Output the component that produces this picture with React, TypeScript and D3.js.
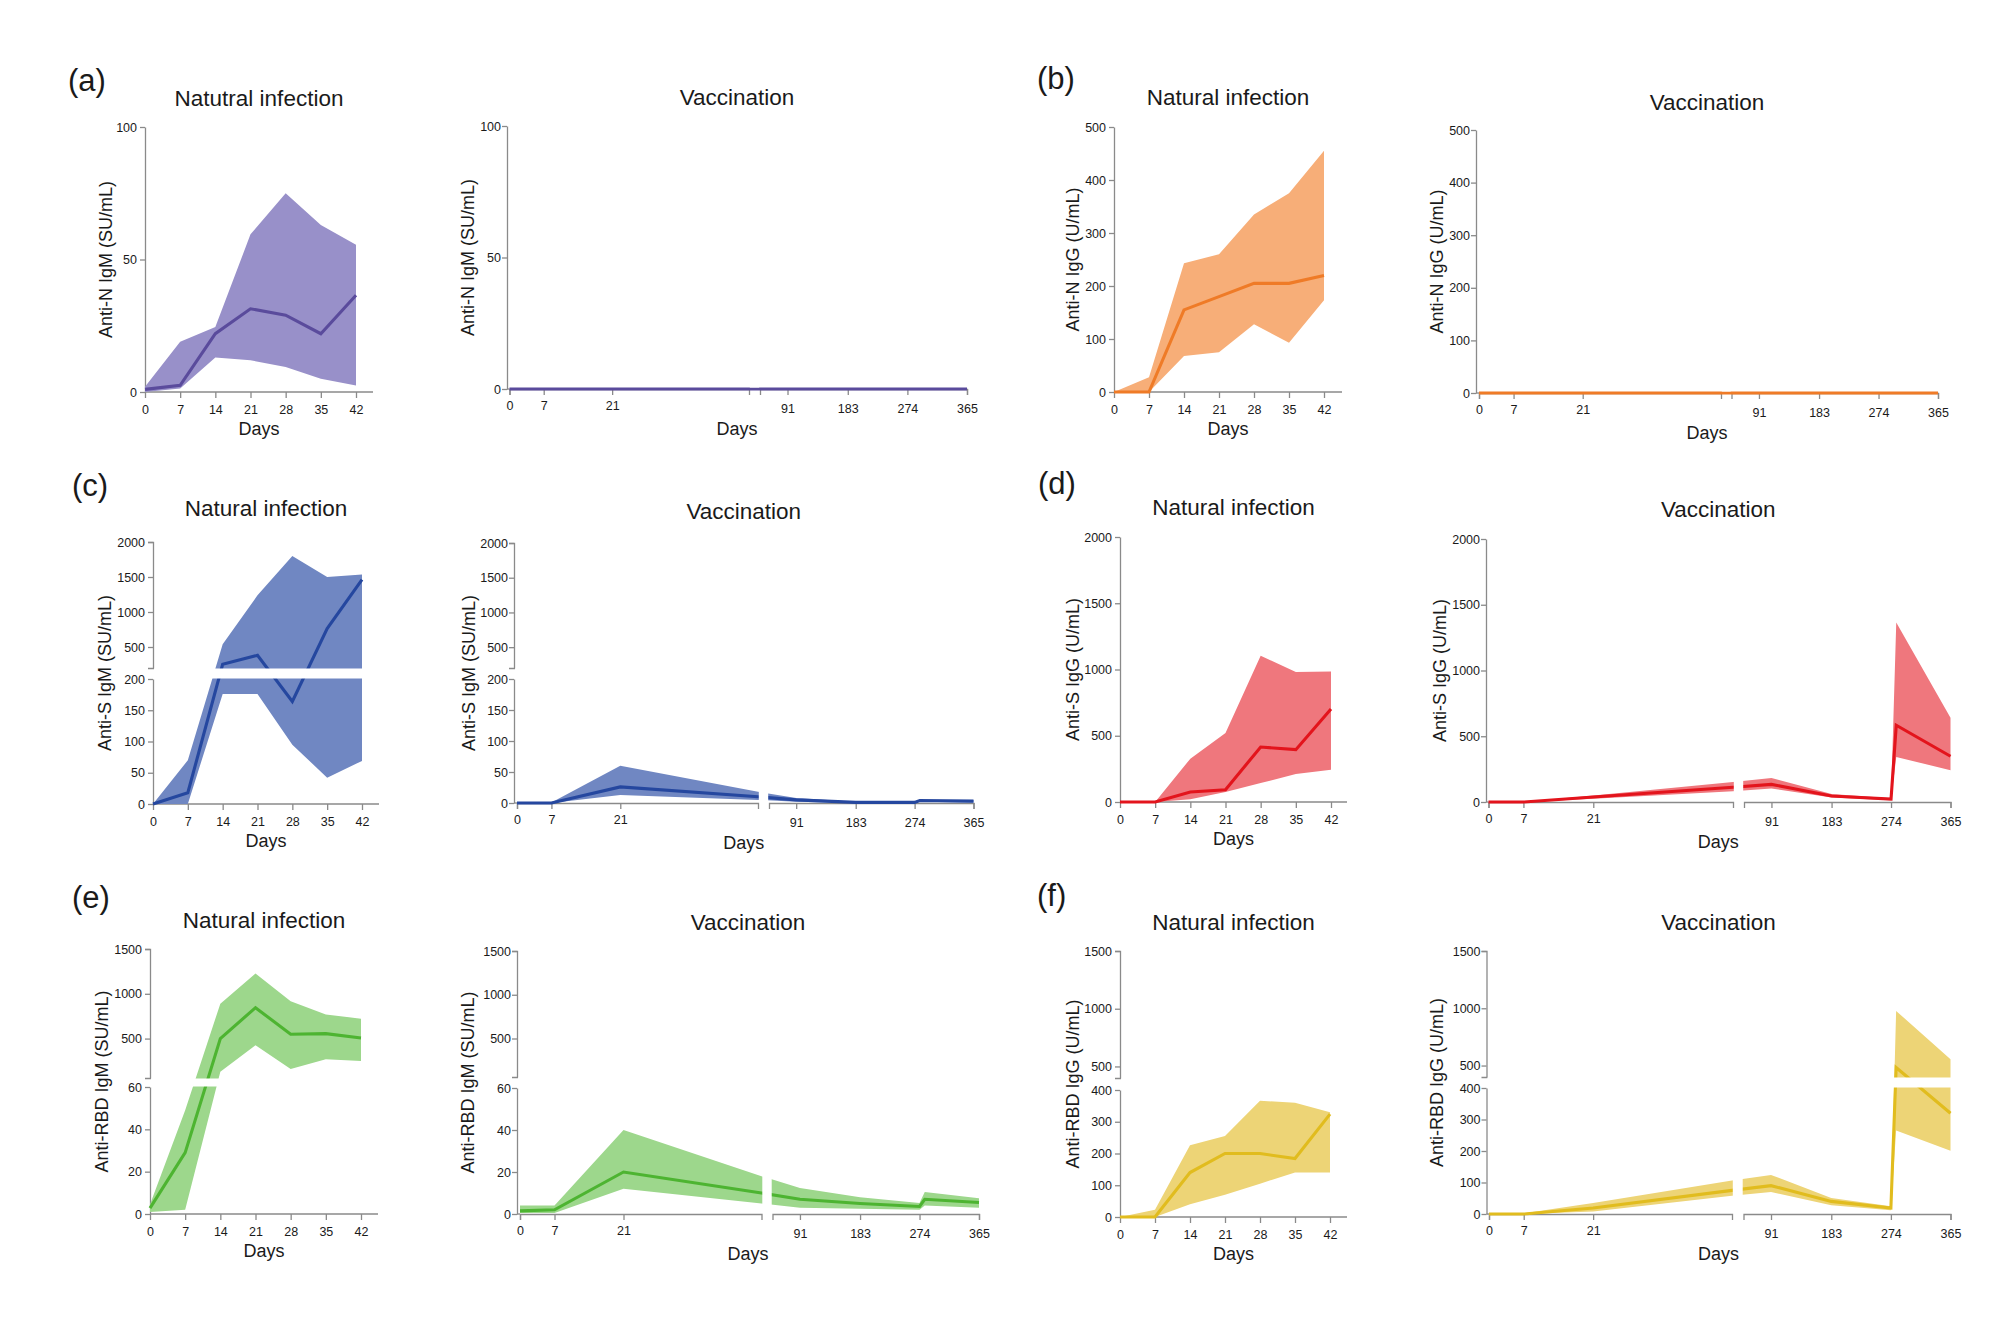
import React, { useEffect, useRef } from 'react';
import * as d3 from 'd3';

// ---------- shared x values ----------
const naturalDays = [0, 7, 14, 21, 28, 35, 42];
const vaccineDays = [0, 7, 21, 49, 91, 183, 274, 282, 365];
const naturalTickDays = [0, 7, 14, 21, 28, 35, 42];
const vaccineTickDaysEarly = [0, 7, 21];
const vaccineTickDaysLate = [91, 183, 274, 365];
const vaccineBreakDay = 49;
const vaccineLastDay = 365;
const naturalLastDay = 42;

// ---------- (a) Anti-N IgM ----------
const aNaturalMean = [1, 2.5, 22, 31.4, 29, 22, 36.5];
const aNaturalUpper = [2, 19, 24.5, 59.5, 75, 63, 55.6];
const aNaturalLower = [0, 1.3, 13, 12, 9.4, 5, 2.5];
const aVaccineMean = [0, 0, 0, 0, 0, 0, 0, 0, 0];
const aVaccineUpper = [0, 0, 0, 0, 0, 0, 0, 0, 0];
const aVaccineLower = [0, 0, 0, 0, 0, 0, 0, 0, 0];
const aTicks = [0, 50, 100];

// ---------- (b) Anti-N IgG ----------
const bNaturalMean = [0, 0, 155, 180, 205, 205, 220];
const bNaturalUpper = [0, 28, 243, 260, 335, 375, 455];
const bNaturalLower = [0, 0, 68, 75, 128, 93, 173];
const bVaccineMean = [0, 0, 0, 0, 0, 0, 0, 0, 0];
const bVaccineUpper = [0, 0, 0, 0, 0, 0, 0, 0, 0];
const bVaccineLower = [0, 0, 0, 0, 0, 0, 0, 0, 0];
const bTicks = [0, 100, 200, 300, 400, 500];

// ---------- (c) Anti-S IgM (broken y axis) ----------
const cNaturalMean = [0, 18, 252, 381, 164, 762, 1462];
const cNaturalUpper = [0, 70, 540, 1238, 1800, 1500, 1535];
const cNaturalLower = [0, 0, 176, 176, 95, 42, 69];
const cVaccineMean = [0, 0, 26, 10, 5, 1, 1, 4, 3];
const cVaccineUpper = [1, 1, 60, 18, 8, 2, 2, 5, 5];
const cVaccineLower = [0, 0, 13, 5, 2, 0, 0, 2, 1];
const cTicksLow = [0, 50, 100, 150, 200];
const cTicksHigh = [500, 1000, 1500, 2000];

// ---------- (d) Anti-S IgG ----------
const dNaturalMean = [0, 0, 75, 93, 415, 395, 702];
const dNaturalUpper = [0, 0, 327, 520, 1104, 981, 985];
const dNaturalLower = [0, 0, 20, 75, 143, 211, 244];
const dVaccineMean = [0, 0, 38, 112, 134, 46, 22, 584, 348];
const dVaccineUpper = [0, 0, 50, 152, 183, 60, 28, 1365, 640];
const dVaccineLower = [0, 0, 25, 82, 102, 35, 14, 343, 241];
const dTicks = [0, 500, 1000, 1500, 2000];

// ---------- (e) Anti-RBD IgM (broken y axis) ----------
const eNaturalMean = [2.8, 29, 500, 845, 548, 555, 507];
const eNaturalUpper = [4.5, 49, 890, 1226, 918, 770, 722];
const eNaturalLower = [1, 2, 130, 425, 160, 270, 250];
const eVaccineMean = [1.5, 2, 20, 10, 7, 5, 3.6, 7, 5.5];
const eVaccineUpper = [4, 4, 40, 18, 12.4, 8, 5.2, 10.5, 7.5];
const eVaccineLower = [0.5, 0.5, 12, 5, 3, 2.5, 2, 4, 3];
const eTicksLow = [0, 20, 40, 60];
const eTicksHigh = [500, 1000, 1500];

// ---------- (f) Anti-RBD IgG (broken y axis) ----------
const fNaturalMean = [0, 0, 140, 200, 200, 184, 324];
const fNaturalUpper = [0, 23, 226, 255, 366, 360, 330];
const fNaturalLower = [0, 0, 40, 70, 105, 140, 140];
const fVaccineMean = [0, 0, 19, 75, 90, 40, 19, 483, 320];
const fVaccineUpper = [0, 2, 35, 106, 124, 51, 25, 977, 555];
const fVaccineLower = [0, 0, 8, 58, 70, 28, 12, 265, 201];
const fTicksLow = [0, 100, 200, 300, 400];
const fTicksHigh = [500, 1000, 1500];

// ---------- labels ----------
const panelLetters = ['(a)', '(b)', '(c)', '(d)', '(e)', '(f)'];
const yLabels = [
  'Anti-N IgM (SU/mL)',
  'Anti-N IgG (U/mL)',
  'Anti-S IgM (SU/mL)',
  'Anti-S IgG (U/mL)',
  'Anti-RBD IgM (SU/mL)',
  'Anti-RBD IgG (U/mL)',
];
const naturalTitles = [
  'Natutral infection',
  'Natural infection',
  'Natural infection',
  'Natural infection',
  'Natural infection',
  'Natural infection',
];
const vaccineTitle = 'Vaccination';
const xLabel = 'Days';

// ---------- styles ----------
const lineColors = ['#5a4b9c', '#ef7b27', '#25479f', '#e3141c', '#4db431', '#e1bc1e'];
const bandColors = ['#9890c9', '#f7ae78', '#7087c2', '#ef777d', '#9dd78c', '#edd476'];
const FONT = "'Liberation Sans', Arial, Helvetica, sans-serif";
const AXIS_COLOR = '#8a8a8a';
const TEXT_COLOR = '#1a1a1a';
const tickFormat = d3.format('d');

// ---------- layout (pixel geometry of each plot) ----------
const letterPos = [
  [68, 80], [1037, 78], [72, 485], [1038, 483], [72, 897], [1037, 895],
];

const naturalLayout = [
  { X: 145, x42: 356, end: 373, yTop: 127, yBottom: 392, titleY: 98, yOff: 39 },
  { X: 1114, x42: 1324, end: 1342, yTop: 127, yBottom: 392, titleY: 97, yOff: 41 },
  { X: 153, x42: 362, end: 379, yTop: 542, yBottom: 804, yLowTop: 679, yUpBottom: 668, titleY: 508, yOff: 48 },
  { X: 1120, x42: 1331, end: 1347, yTop: 537, yBottom: 802, titleY: 507, yOff: 47 },
  { X: 150, x42: 361, end: 378, yTop: 949, yBottom: 1214, yLowTop: 1087, yUpBottom: 1078, titleY: 920, yOff: 48 },
  { X: 1120, x42: 1330, end: 1347, yTop: 951, yBottom: 1217, yLowTop: 1090, yUpBottom: 1078, titleY: 922, yOff: 47 },
];
const vaccineLayout = [
  { X: 507, x0: 509.5, xBE: 749, xBS: 760, x365: 967, yTop: 126, yBottom: 389, titleY: 97, yOff: 39 },
  { X: 1476, x0: 1479, xBE: 1721, xBS: 1731.5, x365: 1938, yTop: 130, yBottom: 393, titleY: 102, yOff: 39 },
  { X: 514, x0: 517, xBE: 758, xBS: 769, x365: 973.5, yTop: 543, yBottom: 803, yLowTop: 679, yUpBottom: 668, titleY: 511, yOff: 45 },
  { X: 1486, x0: 1488.5, xBE: 1733, xBS: 1744, x365: 1950.5, yTop: 539, yBottom: 802, titleY: 509, yOff: 46 },
  { X: 517, x0: 520, xBE: 761.5, xBS: 772.5, x365: 979, yTop: 951, yBottom: 1214, yLowTop: 1088, yUpBottom: 1077, titleY: 922, yOff: 49 },
  { X: 1486.5, x0: 1489, xBE: 1732, xBS: 1743.5, x365: 1950.5, yTop: 951, yBottom: 1214, yLowTop: 1088, yUpBottom: 1077, titleY: 922, yOff: 50 },
];

// y-axis definitions built from the tick arrays
const yAxes = [
  { max: 100, ticks: aTicks },
  { max: 500, ticks: bTicks },
  { max: 2000, lowMax: 200, ticksLow: cTicksLow, ticksHigh: cTicksHigh },
  { max: 2000, ticks: dTicks },
  { max: 1500, lowMax: 60, ticksLow: eTicksLow, ticksHigh: eTicksHigh },
  { max: 1500, lowMax: 400, ticksLow: fTicksLow, ticksHigh: fTicksHigh },
];

const naturalSeries = [
  [aNaturalMean, aNaturalUpper, aNaturalLower],
  [bNaturalMean, bNaturalUpper, bNaturalLower],
  [cNaturalMean, cNaturalUpper, cNaturalLower],
  [dNaturalMean, dNaturalUpper, dNaturalLower],
  [eNaturalMean, eNaturalUpper, eNaturalLower],
  [fNaturalMean, fNaturalUpper, fNaturalLower],
];
const vaccineSeries = [
  [aVaccineMean, aVaccineUpper, aVaccineLower],
  [bVaccineMean, bVaccineUpper, bVaccineLower],
  [cVaccineMean, cVaccineUpper, cVaccineLower],
  [dVaccineMean, dVaccineUpper, dVaccineLower],
  [eVaccineMean, eVaccineUpper, eVaccineLower],
  [fVaccineMean, fVaccineUpper, fVaccineLower],
];

function styleAxis(sel: any) {
  sel.attr('font-family', FONT).attr('font-size', 12.5);
  sel.selectAll('.domain').attr('stroke', AXIS_COLOR).attr('stroke-width', 1.3);
  sel.selectAll('.tick line').attr('stroke', AXIS_COLOR).attr('stroke-width', 1.3);
  sel.selectAll('.tick text').attr('fill', TEXT_COLOR);
}

function drawChart(root: any, idx: number, isVac: boolean) {
  const L: any = isVac ? vaccineLayout[idx] : naturalLayout[idx];
  const ya: any = yAxes[idx];
  const [mean, upper, lower] = isVac ? vaccineSeries[idx] : naturalSeries[idx];
  const days = isVac ? vaccineDays : naturalDays;
  const lineColor = lineColors[idx];
  const bandColor = bandColors[idx];
  const g = root.append('g');
  const axisEnd = isVac ? L.x365 : L.end;

  // ----- x scales -----
  let fx: (d: number) => number;
  if (isVac) {
    const x1 = d3.scaleLinear().domain([0, vaccineBreakDay]).range([L.x0, L.xBE]);
    const x2 = d3.scaleLinear().domain([vaccineBreakDay, vaccineLastDay]).range([L.xBS, L.x365]);
    fx = (d: number) => (d <= vaccineBreakDay ? x1(d) : x2(d));
    const ax1 = g.append('g').attr('transform', `translate(0,${L.yBottom})`)
      .call(d3.axisBottom(x1).tickValues(vaccineTickDaysEarly).tickFormat(tickFormat)
        .tickSize(6).tickSizeOuter(6).tickPadding(6));
    styleAxis(ax1);
    const ax2 = g.append('g').attr('transform', `translate(0,${L.yBottom})`)
      .call(d3.axisBottom(x2).tickValues(vaccineTickDaysLate).tickFormat(tickFormat)
        .tickSize(6).tickSizeOuter(6).tickPadding(9));
    styleAxis(ax2);
    g.append('line').attr('x1', L.X).attr('x2', L.x0).attr('y1', L.yBottom).attr('y2', L.yBottom)
      .attr('stroke', AXIS_COLOR).attr('stroke-width', 1.3);
  } else {
    const x = d3.scaleLinear().domain([0, naturalLastDay]).range([L.X, L.x42]);
    fx = (d: number) => x(d);
    const ax = g.append('g').attr('transform', `translate(0,${L.yBottom})`)
      .call(d3.axisBottom(x).tickValues(naturalTickDays).tickFormat(tickFormat)
        .tickSize(6).tickSizeOuter(0).tickPadding(7));
    ax.select('.domain').remove();
    styleAxis(ax);
    g.append('line').attr('x1', L.X).attr('x2', L.end).attr('y1', L.yBottom).attr('y2', L.yBottom)
      .attr('stroke', AXIS_COLOR).attr('stroke-width', 1.3);
  }

  // ----- y scales -----
  let fy: (v: number) => number;
  const ypad = isVac ? 1 : 3;
  if (ya.lowMax) {
    const yl = d3.scaleLinear().domain([0, ya.lowMax]).range([L.yBottom, L.yLowTop]);
    const yu = d3.scaleLinear().domain([ya.lowMax, ya.max]).range([L.yUpBottom, L.yTop]);
    fy = (v: number) => (v <= ya.lowMax ? yl(v) : yu(v));
    const a1 = g.append('g').attr('transform', `translate(${L.X},0)`)
      .call(d3.axisLeft(yl).tickValues(ya.ticksLow).tickFormat(tickFormat)
        .tickSize(5).tickSizeOuter(0).tickPadding(ypad));
    styleAxis(a1);
    const a2 = g.append('g').attr('transform', `translate(${L.X},0)`)
      .call(d3.axisLeft(yu).tickValues(ya.ticksHigh).tickFormat(tickFormat)
        .tickSize(5).tickSizeOuter(5).tickPadding(ypad));
    styleAxis(a2);
  } else {
    const y = d3.scaleLinear().domain([0, ya.max]).range([L.yBottom, L.yTop]);
    fy = (v: number) => y(v);
    const a = g.append('g').attr('transform', `translate(${L.X},0)`)
      .call(d3.axisLeft(y).tickValues(ya.ticks).tickFormat(tickFormat)
        .tickSize(5).tickSizeOuter(0).tickPadding(ypad));
    styleAxis(a);
  }

  // ----- band and mean line -----
  const idxs = days.map((_, i) => i);
  const area = d3.area<number>()
    .x((i) => fx(days[i]))
    .y0((i) => fy(lower[i]))
    .y1((i) => fy(upper[i]));
  const line = d3.line<number>()
    .x((i) => fx(days[i]))
    .y((i) => fy(mean[i]));
  g.append('path').attr('d', area(idxs)).attr('fill', bandColor).attr('stroke', 'none');
  g.append('path').attr('d', line(idxs)).attr('fill', 'none').attr('stroke', lineColor)
    .attr('stroke-width', 3.1).attr('stroke-linejoin', 'miter');

  // ----- white gaps of the broken axes -----
  if (ya.lowMax) {
    g.append('rect').attr('x', L.X + 1).attr('y', L.yUpBottom + 0.5)
      .attr('width', axisEnd - L.X + 10).attr('height', L.yLowTop - L.yUpBottom - 1)
      .attr('fill', '#fff');
  }
  if (isVac) {
    g.append('rect').attr('x', L.xBE + 0.8).attr('y', L.yTop - 5)
      .attr('width', L.xBS - L.xBE - 1.6).attr('height', L.yBottom - L.yTop + 3.5)
      .attr('fill', '#fff');
  }

  // ----- titles -----
  const cx = (L.X + axisEnd) / 2;
  g.append('text').attr('x', cx).attr('y', L.titleY).attr('text-anchor', 'middle')
    .attr('dominant-baseline', 'central').attr('font-family', FONT).attr('font-size', 22.5)
    .attr('fill', TEXT_COLOR).text(isVac ? vaccineTitle : naturalTitles[idx]);
  g.append('text').attr('x', cx).attr('y', L.yBottom + (isVac ? 40 : 37)).attr('text-anchor', 'middle')
    .attr('dominant-baseline', 'central').attr('font-family', FONT).attr('font-size', 18)
    .attr('fill', TEXT_COLOR).text(xLabel);
  const ymid = (L.yTop + L.yBottom) / 2;
  g.append('text').attr('transform', `translate(${L.X - L.yOff},${ymid}) rotate(-90)`)
    .attr('text-anchor', 'middle').attr('dominant-baseline', 'central')
    .attr('font-family', FONT).attr('font-size', 18).attr('fill', TEXT_COLOR)
    .text(yLabels[idx]);
}

export default function App() {
  const ref = useRef<SVGSVGElement | null>(null);
  useEffect(() => {
    const svg = d3.select(ref.current);
    svg.selectAll('*').remove();
    svg.append('rect').attr('width', 2014).attr('height', 1330).attr('fill', '#fff');
    for (let i = 0; i < 6; i++) {
      drawChart(svg, i, false);
      drawChart(svg, i, true);
      svg.append('text').attr('x', letterPos[i][0]).attr('y', letterPos[i][1])
        .attr('dominant-baseline', 'central').attr('font-family', FONT).attr('font-size', 31)
        .attr('fill', TEXT_COLOR).text(panelLetters[i]);
    }
  }, []);
  return (
    <svg
      ref={ref}
      width={2014}
      height={1330}
      style={{ position: 'absolute', left: 0, top: 0, display: 'block' }}
    />
  );
}
